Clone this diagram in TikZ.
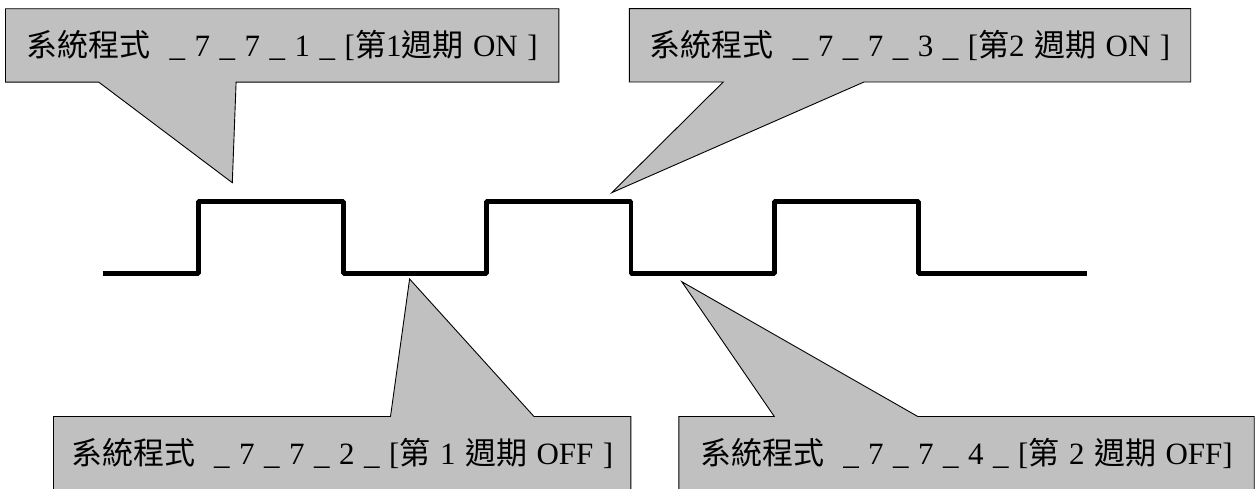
\documentclass[tikz,border=0pt]{standalone}
\usepackage{fontspec}
\setmainfont{Liberation Serif}
\newfontfamily\cjk{Noto Sans CJK TC}
\usetikzlibrary{positioning, calc, backgrounds}
\definecolor{boxgray}{RGB}{192,192,192}

\begin{document}
\begin{tikzpicture}[x=1pt, y=-1pt,
		calloutbox/.style={draw=black, line width=0.9pt, fill=boxgray, line join=miter},
		callouttext/.style={inner sep=0pt, minimum height=73pt, font=\fontsize{31}{37}\selectfont,
			execute at begin node={\spaceskip=9.5pt\relax}},
		signal/.style={line width=4.6pt, line join=bevel}]
				\useasboundingbox (0,0) rectangle (1255,488);
				
				% labels of the callouts
				\node[callouttext, minimum width=553pt] (on1) at (282.2,45.4)
					{{\cjk 系統程式}\ \ \_ 7 \_ 7 \_ 1 \_ [{\cjk 第}1{\cjk 週期} ON ]};
				\node[callouttext, minimum width=561pt] (on2) at (910,45.3)
					{{\cjk 系統程式}\ \ \_ 7 \_ 7 \_ 3 \_ [{\cjk 第}2 {\cjk 週期} ON ]};
				\node[callouttext, minimum width=577pt] (off1) at (342.2,453.2)
					{{\cjk 系統程式}\ \ \_ 7 \_ 7 \_ 2 \_ [{\cjk 第} 1 {\cjk 週期} OFF ]};
				\node[callouttext, minimum width=575pt] (off2) at (966.5,453.2)
					{{\cjk 系統程式}\ \ \_ 7 \_ 7 \_ 4 \_ [{\cjk 第} 2 {\cjk 週期} OFF]};
				
				% pointer tips on the signal
				\coordinate (tip on1) at (232.3,182.7);
				\coordinate (tip on2) at (611.7,192.7);
				\coordinate (tip off1) at (409.6,279);
				\coordinate (tip off2) at (681.8,281.7);
				
				\begin{scope}[on background layer]
					\draw[calloutbox] (on1.north west) -- (on1.north east) -- (on1.south east)
						-- (236.1,0 |- on1.south) -- (tip on1) -- (98.7,0 |- on1.south) -- (on1.south west) -- cycle;
					\draw[calloutbox] (on2.north west) -- (on2.north east) -- (on2.south east)
						-- (864,0 |- on2.south) -- (tip on2) -- (723.2,0 |- on2.south) -- (on2.south west) -- cycle;
					\draw[calloutbox] (off1.south west) -- (off1.north west) -- (390.5,0 |- off1.north)
						-- (tip off1) -- (534,0 |- off1.north) -- (off1.north east) -- (off1.south east) -- cycle;
					\draw[calloutbox] (off2.south west) -- (off2.north west) -- (774.3,0 |- off2.north)
						-- (tip off2) -- (917.8,0 |- off2.north) -- (off2.north east) -- (off2.south east) -- cycle;
				\end{scope}
				
				% pulse train
				\draw[signal] (102.7,273.2) -- (198.5,273.2) -- (198.5,201.7) -- (343.2,201.7) -- (343.2,273.2)
					-- (486.5,273.2) -- (486.5,201.7) -- (630.8,201.7) -- (630.8,273.2)
					-- (774.5,273.2) -- (774.5,201.7) -- (918.5,201.7) -- (918.5,273.2) -- (1086.7,273.2);
			\end{tikzpicture}
\end{document}
